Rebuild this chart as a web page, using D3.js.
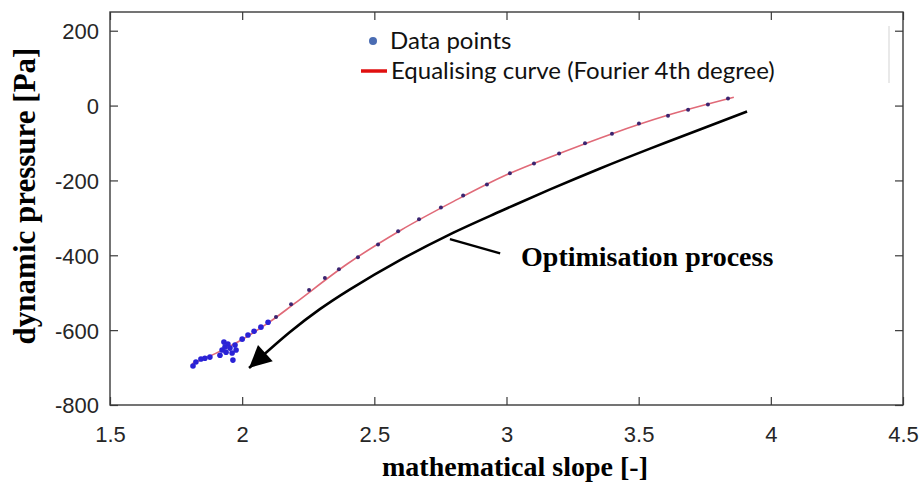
<!DOCTYPE html>
<html>
<head>
<meta charset="utf-8">
<script src="https://cdn.jsdelivr.net/npm/d3@7"></script>
<style>
  body { margin: 0; background: #fff; }
  svg { display: block; }
</style>
</head>
<body>
<script>

// measured data points (upper, sparse part of the series)
let pointX = [2.128, 2.185, 2.253, 2.313, 2.366, 2.438, 2.514, 2.590, 2.669, 2.752, 2.836, 2.926,
              3.013, 3.104, 3.199, 3.297, 3.399, 3.501, 3.611, 3.687, 3.762, 3.838]
let pointY = [-565, -531, -493, -461, -437, -405, -371, -336, -304, -272, -240, -211,
              -181, -155, -128, -101, -75, -48, -27, -11, 3, 19]

// dense cluster of data points at the low end
let clusterX = [1.814, 1.825, 1.844, 1.859, 1.878, 1.916, 1.924, 1.931, 1.935, 1.939, 1.946, 1.954,
                1.962, 1.965, 1.973, 1.977, 2.000, 2.022, 2.045, 2.071, 2.098]
let clusterY = [-696, -685, -677, -675, -672, -667, -653, -632, -645, -659, -637, -648,
                -661, -680, -640, -653, -624, -613, -603, -592, -579]

// equalising curve (Fourier 4th degree)
let fitX = [1.81, 1.90, 2.00, 2.10, 2.20, 2.40, 2.60, 2.80, 3.00, 3.20, 3.40, 3.60, 3.86]
let fitY = [-690, -662, -625, -580, -528, -422, -333, -256, -185, -128, -75, -28, 22]

// optimisation process arrow (drawn from the top end down to the tip)
let optX = [3.910, 3.732, 3.543, 3.354, 3.165, 2.975, 2.786, 2.597, 2.408, 2.294, 2.181, 2.026]
let optY = [-16, -64, -115, -168, -224, -283, -344, -413, -491, -544, -605, -701]

let xTicks = [1.5, 2, 2.5, 3, 3.5, 4, 4.5]
let xTickLabels = ["1.5", "2", "2.5", "3", "3.5", "4", "4.5"]
let yTicks = [-800, -600, -400, -200, 0, 200]
let yTickLabels = ["-800", "-600", "-400", "-200", "0", "200"]

let width = 923
let height = 486
let margin = {left: 110, right: 20, top: 12, bottom: 81}

let svg = d3.select("body")
            .append("svg")
            .attr("width", width)
            .attr("height", height)

let xScale = d3.scaleLinear()
               .domain([1.5, 4.5])
               .range([margin.left, width - margin.right])

let yScale = d3.scaleLinear()
               .domain([-800, 250])
               .range([height - margin.bottom, margin.top])

let axisColor = "#3a3a3a"
let tickFont = "'Liberation Sans', Arial, sans-serif"
let serif = "'Liberation Serif', 'Times New Roman', serif"

let drawAxes = () => {
    let fmtX = (d) => xTickLabels[xTicks.indexOf(d)]
    let fmtY = (d) => yTickLabels[yTicks.indexOf(d)]

    let bottom = svg.append("g")
        .attr("transform", "translate(0," + (height - margin.bottom) + ")")
        .call(d3.axisBottom(xScale).tickValues(xTicks).tickFormat(fmtX)
              .tickSizeInner(-8).tickSizeOuter(0).tickPadding(21))
    let top = svg.append("g")
        .attr("transform", "translate(0," + margin.top + ")")
        .call(d3.axisTop(xScale).tickValues(xTicks).tickFormat("")
              .tickSizeInner(-8).tickSizeOuter(0))
    let left = svg.append("g")
        .attr("transform", "translate(" + margin.left + ",0)")
        .call(d3.axisLeft(yScale).tickValues(yTicks).tickFormat(fmtY)
              .tickSizeInner(-8).tickSizeOuter(0).tickPadding(11))
    let right = svg.append("g")
        .attr("transform", "translate(" + (width - margin.right) + ",0)")
        .call(d3.axisRight(yScale).tickValues(yTicks).tickFormat("")
              .tickSizeInner(-8).tickSizeOuter(0))

    ;[bottom, top, left, right].forEach((g) => {
        g.select(".domain").remove()
        g.selectAll("line").attr("stroke", axisColor).attr("stroke-width", 1.2)
        g.selectAll("text")
         .attr("fill", "#262626")
         .style("font-family", tickFont)
         .style("font-size", "22px")
    })
    left.selectAll("text").attr("dy", "0.36em")

    // box round the plot
    svg.append("rect")
       .attr("x", margin.left)
       .attr("y", margin.top)
       .attr("width", width - margin.left - margin.right)
       .attr("height", height - margin.top - margin.bottom)
       .attr("fill", "none")
       .attr("stroke", axisColor)
       .attr("stroke-width", 1.4)

    svg.append("text")
       .attr("x", 515)
       .attr("y", 476)
       .attr("text-anchor", "middle")
       .style("font-family", serif)
       .style("font-weight", "bold")
       .style("font-size", "28px")
       .text("mathematical slope [-]")

    svg.append("text")
       .attr("transform", "translate(35,196) rotate(-90)")
       .attr("text-anchor", "middle")
       .style("font-family", serif)
       .style("font-weight", "bold")
       .style("font-size", "31px")
       .text("dynamic pressure [Pa]")
}

let drawSeries = () => {
    let fitLine = d3.line()
                    .x((d, i) => xScale(fitX[i]))
                    .y((d, i) => yScale(fitY[i]))
                    .curve(d3.curveCatmullRom)

    svg.append("path")
       .datum(fitX)
       .attr("d", fitLine)
       .attr("fill", "none")
       .attr("stroke", "#e06a78")
       .attr("stroke-width", 1.6)

    svg.selectAll(".pt")
       .data(pointX)
       .enter()
       .append("circle")
       .attr("class", "pt")
       .attr("cx", (d) => xScale(d))
       .attr("cy", (d, i) => yScale(pointY[i]))
       .attr("r", 2)
       .attr("fill", "#3b2470")

    svg.selectAll(".cl")
       .data(clusterX)
       .enter()
       .append("circle")
       .attr("class", "cl")
       .attr("cx", (d) => xScale(d))
       .attr("cy", (d, i) => yScale(clusterY[i]))
       .attr("r", 2.8)
       .attr("fill", "#2a22d6")
}

let drawAnnotation = () => {
    svg.append("defs")
       .append("marker")
       .attr("id", "head")
       .attr("viewBox", "0 0 10 10")
       .attr("refX", 10)
       .attr("refY", 5)
       .attr("markerUnits", "userSpaceOnUse")
       .attr("markerWidth", 26)
       .attr("markerHeight", 22)
       .attr("orient", "auto")
       .append("path")
       .attr("d", "M0,0 L10,5 L0,10 z")
       .attr("fill", "#000")

    let optLine = d3.line()
                    .x((d, i) => xScale(optX[i]))
                    .y((d, i) => yScale(optY[i]))
                    .curve(d3.curveCatmullRom)

    svg.append("path")
       .datum(optX)
       .attr("d", optLine)
       .attr("fill", "none")
       .attr("stroke", "#000")
       .attr("stroke-width", 2.6)
       .attr("marker-end", "url(#head)")

    // leader line to the label
    svg.append("line")
       .attr("x1", xScale(2.786)).attr("y1", yScale(-357))
       .attr("x2", xScale(2.976)).attr("y2", yScale(-395))
       .attr("stroke", "#000")
       .attr("stroke-width", 2.4)

    svg.append("text")
       .attr("x", xScale(3.055))
       .attr("y", yScale(-429))
       .style("font-family", serif)
       .style("font-weight", "bold")
       .style("font-size", "28px")
       .text("Optimisation process")
}

let drawLegend = () => {
    let font = "Lato, 'Open Sans', sans-serif"
    svg.append("line")
       .attr("x1", 889).attr("y1", 26)
       .attr("x2", 889).attr("y2", 83)
       .attr("stroke", "#e2e2e2")
       .attr("stroke-width", 1.5)

    svg.append("circle")
       .attr("cx", 373).attr("cy", 41).attr("r", 4)
       .attr("fill", "#4a6cb3")
    svg.append("text")
       .attr("x", 390).attr("y", 49)
       .style("font-family", font)
       .style("font-size", "24px")
       .attr("fill", "#111")
       .text("Data points")

    svg.append("line")
       .attr("x1", 361).attr("y1", 71)
       .attr("x2", 387).attr("y2", 71)
       .attr("stroke", "#e01010")
       .attr("stroke-width", 3.5)
    svg.append("text")
       .attr("x", 391).attr("y", 79)
       .style("font-family", font)
       .style("font-size", "24px")
       .attr("fill", "#111")
       .text("Equalising curve (Fourier 4th degree)")
}

drawAxes()
drawSeries()
drawAnnotation()
drawLegend()
</script>
</body>
</html>
